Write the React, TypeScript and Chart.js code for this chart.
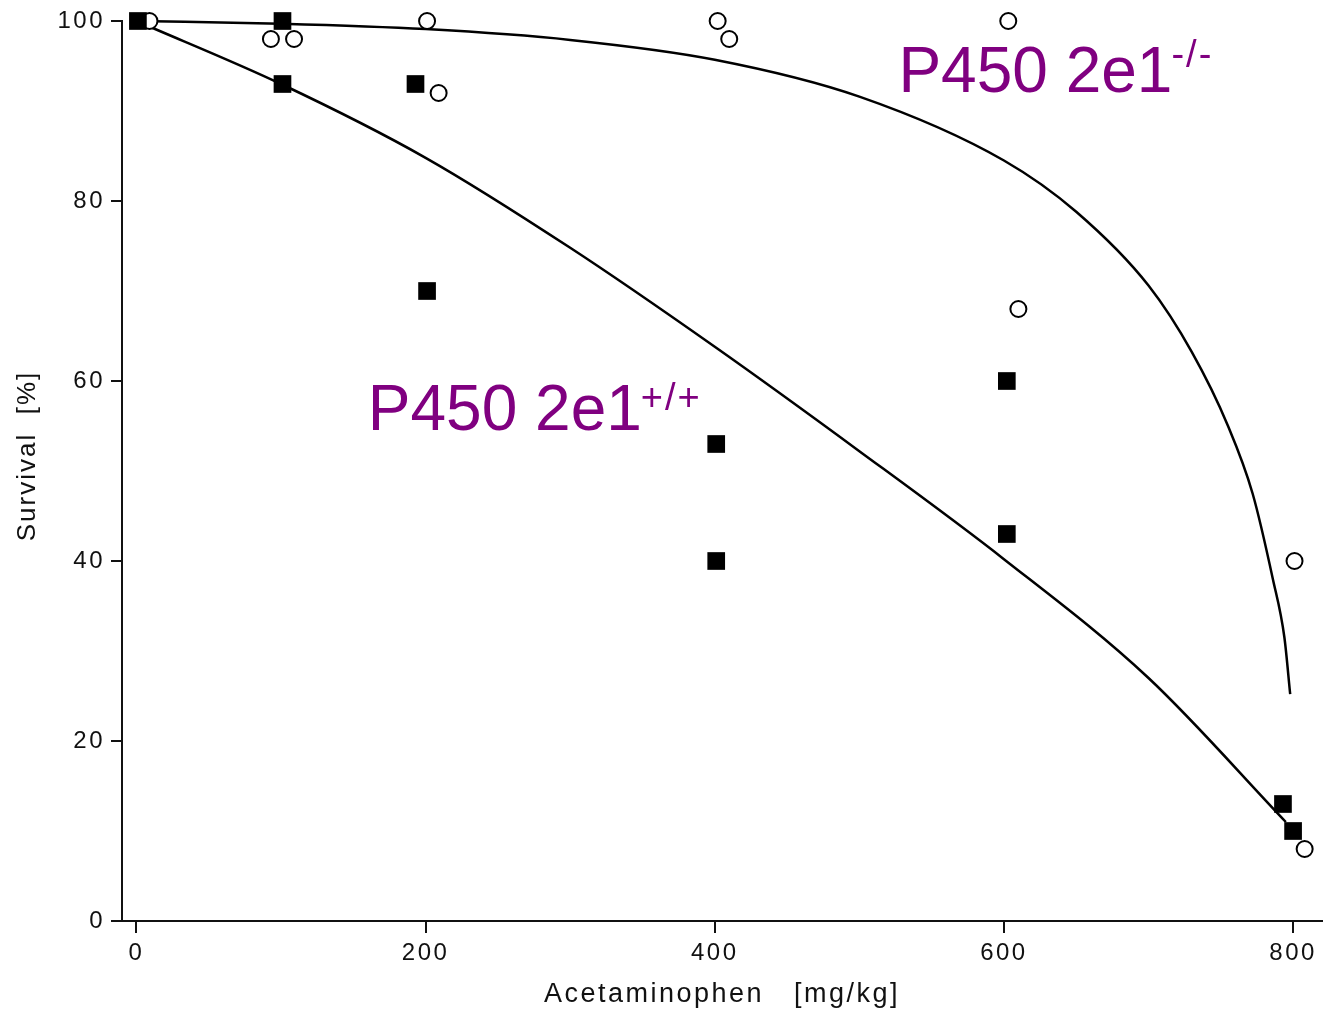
import React, { useEffect, useRef } from "react";
import { Chart, registerables } from "chart.js";

Chart.register(...registerables);

// Axis ticks
const xTickValues = [0, 200, 400, 600, 800];
const yTickValues = [0, 20, 40, 60, 80, 100];

// P450 2e1 +/+ (filled squares)
const wildDose = [1, 101, 101, 193, 201, 401, 401, 602, 602, 793, 800];
const wildSurvival = [100, 100, 93, 93, 70, 53, 40, 60, 43, 13, 10];

// P450 2e1 -/- (open circles)
const nullDose = [9, 93, 109, 201, 209, 402, 410, 603, 610, 801, 808];
const nullSurvival = [100, 98, 98, 100, 92, 100, 98, 100, 68, 40, 8];

// Fitted curve, +/+
const wildFitDose = [0, 100, 200, 300, 400, 500, 600, 700, 795];
const wildFitSurvival = [100, 93, 84.8, 74.8, 63.8, 52.2, 40.2, 27, 11];

// Fitted curve, -/-
const nullFitDose = [0, 100, 200, 300, 400, 500, 600, 650, 700, 730, 755, 772, 786, 794, 798];
const nullFitSurvival = [100, 99.7, 99.1, 97.9, 95.7, 91.6, 84.5, 78.8, 70.6, 63.2, 55.0, 47.5, 38.0, 31.5, 25.2];

// Text labels (anchored in data coordinates)
const labelMain = ["P450 2e1", "P450 2e1"];
const labelSup = ["+/+", "-/-"];
const labelDose = [160, 527];
const labelSurvival = [54.6, 92.1];
const labelSupRise = [20, 25];

const FONT = "'Liberation Sans', Arial, Helvetica, sans-serif";

const toPoints = (xs: number[], ys: number[]) => xs.map((x, i) => ({ x, y: ys[i] }));

export default function App() {
  const canvasRef = useRef<HTMLCanvasElement | null>(null);

  useEffect(() => {
    document.body.style.margin = "0";
    const canvas = canvasRef.current;
    if (!canvas) return;

    const spacingPlugin = {
      id: "spacing",
      beforeDraw(chart: any) {
        (chart.ctx as any).letterSpacing = "2.5px";
      },
    };

    const labelPlugin = {
      id: "labels",
      afterDatasetsDraw(chart: any) {
        const ctx = chart.ctx as any;
        const xs = chart.scales.x;
        const ys = chart.scales.y;
        const area = chart.chartArea;
        ctx.save();
        // y axis title
        ctx.fillStyle = "#111";
        ctx.letterSpacing = "2px";
        ctx.font = `26px ${FONT}`;
        ctx.textAlign = "center";
        ctx.textBaseline = "middle";
        ctx.translate(28, (area.top + area.bottom) / 2 - 15);
        ctx.rotate(-Math.PI / 2);
        ctx.fillText("Survival  [%]", 0, 0);
        ctx.restore();

        ctx.save();
        ctx.fillStyle = "#800080";
        ctx.textAlign = "left";
        ctx.textBaseline = "alphabetic";
        for (let i = 0; i < labelMain.length; i++) {
          const px = xs.getPixelForValue(labelDose[i]);
          const py = ys.getPixelForValue(labelSurvival[i]);
          ctx.letterSpacing = "0px";
          ctx.font = `64px ${FONT}`;
          ctx.fillText(labelMain[i], px, py);
          const w = ctx.measureText(labelMain[i]).width;
          ctx.font = `38px ${FONT}`;
          ctx.letterSpacing = "2px";
          ctx.fillText(labelSup[i], px + w - 1, py - labelSupRise[i]);
        }
        ctx.restore();
      },
    };

    const chart = new Chart(canvas, {
      type: "scatter",
      data: {
        datasets: [
          {
            label: "P450 2e1 +/+",
            data: toPoints(wildDose, wildSurvival),
            pointStyle: "rect",
            pointRadius: 12.5,
            pointHoverRadius: 12.5,
            backgroundColor: "#000",
            borderColor: "#000",
            borderWidth: 0,
            clip: false,
            order: 0,
          },
          {
            label: "P450 2e1 -/-",
            data: toPoints(nullDose, nullSurvival),
            pointStyle: "circle",
            pointRadius: 8,
            pointHoverRadius: 8,
            backgroundColor: "#fff",
            borderColor: "#000",
            borderWidth: 2,
            clip: false,
            order: 1,
          },
          {
            label: "fit +/+",
            data: toPoints(wildFitDose, wildFitSurvival),
            showLine: true,
            pointRadius: 0,
            borderColor: "#000",
            borderWidth: 2.5,
            cubicInterpolationMode: "monotone",
            fill: false,
            clip: false,
            order: 2,
          },
          {
            label: "fit -/-",
            data: toPoints(nullFitDose, nullFitSurvival),
            showLine: true,
            pointRadius: 0,
            borderColor: "#000",
            borderWidth: 2.5,
            cubicInterpolationMode: "monotone",
            fill: false,
            clip: false,
            order: 3,
          },
        ] as any,
      },
      options: {
        animation: false,
        responsive: false,
        devicePixelRatio: 1,
        layout: { autoPadding: false, padding: { top: 21, right: 3, left: 0, bottom: 0 } },
        plugins: {
          legend: { display: false },
          tooltip: { enabled: false },
        },
        scales: {
          x: {
            type: "linear",
            min: -10,
            max: 820,
            afterBuildTicks: (s: any) => {
              s.ticks = xTickValues.map((v) => ({ value: v }));
            },
            afterFit: (s: any) => {
              s.height = 92;
              s.paddingLeft = 0;
              s.paddingRight = 0;
            },
            grid: {
              drawOnChartArea: false,
              drawTicks: true,
              tickLength: 12,
              color: "#111",
              lineWidth: 2,
            },
            border: { display: true, color: "#111", width: 2 },
            ticks: {
              font: { family: FONT, size: 24 },
              color: "#111",
              padding: 6,
              maxRotation: 0,
            },
            title: {
              display: true,
              text: "Acetaminophen   [mg/kg]",
              color: "#111",
              font: { family: FONT, size: 27 },
              padding: { top: 0, bottom: 2 },
            },
          },
          y: {
            type: "linear",
            min: 0,
            max: 100,
            afterBuildTicks: (s: any) => {
              s.ticks = yTickValues.map((v) => ({ value: v }));
            },
            afterFit: (s: any) => {
              s.width = 122;
              s.paddingTop = 0;
              s.paddingBottom = 0;
            },
            grid: {
              drawOnChartArea: false,
              drawTicks: true,
              tickLength: 11,
              color: "#111",
              lineWidth: 2,
            },
            border: { display: true, color: "#111", width: 2 },
            ticks: {
              font: { family: FONT, size: 24 },
              color: "#111",
              padding: 6,
            },
            title: { display: false },
          },
        },
      } as any,
      plugins: [spacingPlugin, labelPlugin],
    });

    return () => {
      chart.destroy();
    };
  }, []);

  return (
    <canvas
      ref={canvasRef}
      width={1325}
      height={1013}
      style={{ display: "block", width: 1325, height: 1013 }}
    />
  );
}
